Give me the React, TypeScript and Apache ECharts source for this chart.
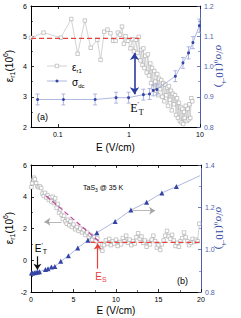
import React, { useEffect, useRef } from 'react';
import * as echarts from 'echarts';

// ---------- Panel (a) : log field axis ----------
const fieldA = [0.042, 0.063, 0.11, 0.155, 0.19, 0.24, 0.29, 0.36, 0.4, 0.45, 0.5, 0.55, 0.6, 0.65, 0.7, 0.75, 0.8, 0.85, 0.9, 0.97,
  1.05, 1.12, 1.18, 1.25, 1.32, 1.38, 1.45, 1.5, 1.55, 1.6, 1.65, 1.7, 1.78, 1.85, 1.92, 2.0, 2.05, 2.12, 2.2, 2.28,
  2.35, 2.42, 2.5, 2.58, 2.65, 2.75, 2.85, 2.95, 3.05, 3.15, 3.25, 3.35, 3.45, 3.55, 3.65, 3.78, 3.9, 4.0, 4.15, 4.3,
  4.45, 4.6, 4.75, 4.9, 5.05, 5.2, 5.35, 5.5, 5.65, 5.8, 5.95, 6.1, 6.3, 6.5, 6.7, 6.9, 7.1, 7.3, 7.55, 7.8];
const epsA = [4.95, 5.12, 4.95, 5.57, 4.42, 5.52, 4.62, 4.88, 4.22, 5.15, 5.22, 5.1, 4.85, 4.85, 5.12, 5.05, 5.32, 4.75, 5.0, 4.85,
  4.6, 4.9, 4.5, 4.88, 4.45, 4.98, 4.2, 4.55, 4.05, 4.6, 3.95, 4.35, 3.8, 4.4, 3.7, 4.1, 3.45, 3.95, 3.3, 3.85,
  3.5, 3.2, 3.75, 3.05, 3.6, 3.25, 3.55, 3.0, 3.45, 2.85, 3.4, 3.05, 3.3, 2.7, 3.35, 2.9, 3.2, 2.55, 3.1, 2.75,
  3.05, 2.4, 2.95, 2.3, 2.8, 2.2, 2.65, 2.15, 2.6, 2.1, 2.5, 2.3, 2.7, 2.2, 2.6, 2.25, 2.75, 2.3, 2.95, 2.85];
const sigFieldA = [0.052, 0.12, 0.335, 0.66, 0.99, 1.6, 1.95, 2.2, 2.47, 4.5, 5.76, 6.9, 7.95, 9.8];
const sigA = [0.891, 0.891, 0.891, 0.897, 0.897, 0.907, 0.909, 0.921, 0.924, 0.968, 1.012, 1.045, 1.079, 1.135];
const sigErrA = [0.018, 0.018, 0.018, 0.018, 0.018, 0.018, 0.018, 0.018, 0.018, 0.018, 0.018, 0.02, 0.02, 0.022];
const flatFieldA = [0.042, 1.4];
const flatEpsA = [4.93, 4.93];

// ---------- Panel (b) : linear field axis ----------
const fieldB = [0.05, 0.15, 0.25, 0.35, 0.45, 0.6, 0.75, 0.9, 1.05, 1.2, 1.35, 1.5, 1.65, 1.8, 1.95, 2.1, 2.25, 2.4, 2.55, 2.7,
  2.85, 3.0, 3.15, 3.3, 3.45, 3.6, 3.75, 3.9, 4.05, 4.2, 4.35, 4.5, 4.65, 4.8, 5.0, 5.2, 5.4, 5.6, 5.8, 6.0,
  6.2, 6.4, 6.6, 6.8, 7.0, 7.2, 7.4, 7.6, 7.8, 8.0, 8.2, 8.4, 8.6, 8.8, 9.0, 9.2, 9.4, 9.6, 9.8, 10.0,
  10.2, 10.4, 10.6, 10.8, 11.0, 11.2, 11.4, 11.6, 11.8, 12.0, 12.2, 12.4, 12.6, 12.8, 13.0, 13.2, 13.4, 13.6, 13.8, 14.0,
  14.2, 14.4, 14.6, 14.8, 15.0, 15.2, 15.4, 15.6, 15.8, 16.0, 16.2, 16.4, 16.6, 16.8, 17.0, 17.2, 17.4, 17.6, 17.8, 18.0,
  18.2, 18.4, 18.6, 18.8, 19.0, 19.2, 19.4, 19.6, 19.8];
const epsB = [4.6, 4.85, 5.05, 5.2, 5.1, 4.85, 4.65, 4.6, 4.65, 4.55, 4.2, 4.05, 4.25, 3.95, 4.1, 3.8, 3.95, 3.7, 4.0, 3.6,
  3.9, 3.3, 3.55, 3.0, 3.2, 2.85, 2.6, 2.8, 2.45, 2.3, 2.55, 2.2, 2.45, 2.1, 2.25, 1.95, 2.1, 1.85, 2.0, 1.75,
  1.9, 1.6, 1.75, 1.45, 1.6, 1.3, 1.5, 1.2, 1.4, 1.0, 0.75, 0.6, 0.95, 1.25, 1.05, 1.35, 0.95, 1.2, 1.05, 1.3,
  0.9, 1.15, 1.0, 1.4, 1.2, 1.55, 1.1, 1.3, 0.95, 1.2, 1.05, 1.45, 1.7, 1.35, 1.5, 1.1, 1.25, 0.85, 1.15, 1.0,
  1.3, 1.55, 1.2, 0.8, 0.95, 0.65, 1.0, 1.25, 1.55, 1.85, 1.5, 1.35, 1.6, 1.25, 0.9, 1.1, 0.85, 1.2, 1.4, 1.75,
  1.45, 1.2, 0.95, 1.1, 1.35, 1.15, 1.3, 1.2, 2.3];
const sigFieldB = [0.05, 0.2, 0.4, 0.6, 0.8, 1.0, 1.7, 2.0, 2.4, 2.8, 3.5, 4.4, 5.5, 6.7, 7.75, 9.9, 11.75, 13.6, 15.4, 17.1, 19.9];
const sigB = [0.89, 0.89, 0.891, 0.893, 0.895, 0.896, 0.906, 0.91, 0.918, 0.92, 0.945, 0.971, 1.008, 1.045, 1.08, 1.133, 1.187, 1.224, 1.268, 1.298, 1.35];
const slopeFieldB = [1.8, 8.2];
const slopeEpsB = [4.05, 1.1];
const flatFieldB = [7.0, 20];
const flatEpsB = [1.12, 1.12];

const BLUE = '#3344a4';
const AXBLUE = '#4f5fae';
const LBLUE = '#9aa4d8';
const GRAY = '#a6a6a6';
const LGRAY = '#c8c8c8';
const RED = '#e8403c';
const MAG = '#c2439a';
const SANS = 'Liberation Sans, Arial, sans-serif';
const SERIF = 'Liberation Serif, Times New Roman, serif';

const zip = (xs: number[], ys: number[]) => xs.map((x, i) => [x, ys[i]]);

const tickIn = { show: true, inside: true, length: 3, lineStyle: { width: 0.8 } };
const minorIn = { show: true, splitNumber: 2, length: 2, lineStyle: { width: 0.6 } };
const hollowSq = { color: '#ffffff', borderColor: GRAY, borderWidth: 0.6 };

export default function App() {
  const ref = useRef<HTMLDivElement>(null);
  useEffect(() => {
    document.body.style.margin = '0';
    const chart = echarts.init(ref.current!, null, { renderer: 'svg' });
    const blackLine = { show: true, onZero: false, lineStyle: { color: '#000', width: 1 } };
    const blueLine = { show: true, onZero: false, lineStyle: { color: AXBLUE, width: 1 } };
    const lbl = { fontSize: 7, color: '#000', fontFamily: SANS, margin: 4 };
    const titleL = (y: number) => ({
      type: 'text', x: 9, y, rotation: Math.PI / 2,
      style: {
        text: '{b|ε}{s|r1}{b|(10}{p|6}{b|)}', align: 'center', verticalAlign: 'middle',
        rich: {
          b: { fontSize: 10, fontFamily: SANS, fill: '#000', lineHeight: 14 },
          s: { fontSize: 7, fontFamily: SANS, fill: '#000', verticalAlign: 'bottom', lineHeight: 10 },
          p: { fontSize: 7, fontFamily: SANS, fill: '#000', verticalAlign: 'top', lineHeight: 10 },
        },
      },
    });
    const titleR = (y: number) => ({
      type: 'text', x: 220, y, rotation: -Math.PI / 2,
      style: {
        text: '{b|σ/σ}{s|0}{b|(10}{p|-4}{b|)}', align: 'center', verticalAlign: 'middle',
        rich: {
          b: { fontSize: 11, fontFamily: SERIF, fill: BLUE, lineHeight: 15 },
          s: { fontSize: 7, fontFamily: SERIF, fill: BLUE, verticalAlign: 'bottom', lineHeight: 10 },
          p: { fontSize: 7, fontFamily: SERIF, fill: BLUE, verticalAlign: 'top', lineHeight: 10 },
        },
      },
    });
    const errBars = sigFieldA.map((x, i) => [x, sigA[i], sigErrA[i]]);

    chart.setOption({
      animation: false,
      grid: [
        { left: 31, top: 6, width: 169, height: 121 },
        { left: 31, top: 165, width: 170, height: 127 },
      ],
      xAxis: [
        {
          gridIndex: 0, type: 'log', logBase: 10, min: 0.042, max: 10, axisLine: blackLine, axisTick: tickIn,
          axisLabel: { ...lbl, showMinLabel: false, formatter: (v: number) => String(+v.toPrecision(3)) },
          splitLine: { show: false },
          name: 'E (V/cm)', nameLocation: 'middle', nameGap: 15,
          nameTextStyle: { fontSize: 10, fontFamily: SANS, color: '#000' },
        },
        {
          gridIndex: 0, type: 'log', logBase: 10, min: 0.042, max: 10, position: 'top', axisLine: blackLine,
          axisTick: tickIn, axisLabel: { show: false }, splitLine: { show: false },
        },
        {
          gridIndex: 1, type: 'value', min: 0, max: 20, interval: 5, axisLine: blackLine, axisTick: tickIn,
          minorTick: minorIn, axisLabel: lbl, splitLine: { show: false },
          name: 'E (V/cm)', nameLocation: 'middle', nameGap: 13,
          nameTextStyle: { fontSize: 10, fontFamily: SANS, color: '#000' },
        },
        {
          gridIndex: 1, type: 'value', min: 0, max: 20, interval: 5, position: 'top', axisLine: blackLine,
          axisTick: tickIn, minorTick: minorIn, axisLabel: { show: false }, splitLine: { show: false },
        },
      ],
      yAxis: [
        {
          gridIndex: 0, type: 'value', min: 2, max: 6, interval: 1, axisLine: blackLine, axisTick: tickIn,
          minorTick: minorIn, axisLabel: lbl, splitLine: { show: false },
        },
        {
          gridIndex: 0, type: 'value', position: 'right', min: 0.8, max: 1.2, interval: 0.1, axisLine: blueLine,
          axisTick: { ...tickIn, lineStyle: { color: AXBLUE, width: 0.8 } },
          minorTick: { ...minorIn, lineStyle: { color: AXBLUE, width: 0.6 } },
          axisLabel: { ...lbl, color: AXBLUE, formatter: (v: number) => v.toFixed(1) }, splitLine: { show: false },
        },
        {
          gridIndex: 1, type: 'value', min: -2, max: 6, interval: 2, axisLine: blackLine, axisTick: tickIn,
          minorTick: minorIn, axisLabel: lbl, splitLine: { show: false },
        },
        {
          gridIndex: 1, type: 'value', position: 'right', min: 0.8, max: 1.4, interval: 0.2, axisLine: blueLine,
          axisTick: { ...tickIn, lineStyle: { color: AXBLUE, width: 0.8 } },
          minorTick: { ...minorIn, lineStyle: { color: AXBLUE, width: 0.6 } },
          axisLabel: { ...lbl, color: AXBLUE, formatter: (v: number) => v.toFixed(1) }, splitLine: { show: false },
        },
      ],
      series: [
        // ---- panel a ----
        {
          type: 'line', xAxisIndex: 0, yAxisIndex: 0, data: zip(fieldA, epsA),
          symbol: 'rect', symbolSize: 3.5, lineStyle: { color: LGRAY, width: 0.8 },
          itemStyle: hollowSq, z: 2,
          markLine: {
            silent: true, symbol: ['arrow', 'arrow'], symbolSize: 7, label: { show: false },
            lineStyle: { color: '#2a3c9c', width: 1.6, type: 'solid' },
            data: [[{ coord: [1.2, 4.45] }, { coord: [1.2, 3.08] }]],
          },
        },
        {
          type: 'line', xAxisIndex: 0, yAxisIndex: 0, data: zip(flatFieldA, flatEpsA), symbol: 'none',
          lineStyle: { color: RED, width: 1.2, type: [5, 3] }, z: 3,
        },
        {
          type: 'custom', xAxisIndex: 0, yAxisIndex: 1, data: errBars, z: 3,
          renderItem: (_p: any, api: any) => {
            const x = api.value(0), y = api.value(1), e = api.value(2);
            const top = api.coord([x, y + e]);
            const bot = api.coord([x, y - e]);
            const st = { stroke: LBLUE, lineWidth: 0.8 };
            return {
              type: 'group',
              children: [
                { type: 'line', shape: { x1: top[0], y1: top[1], x2: bot[0], y2: bot[1] }, style: st },
                { type: 'line', shape: { x1: top[0] - 2, y1: top[1], x2: top[0] + 2, y2: top[1] }, style: st },
                { type: 'line', shape: { x1: bot[0] - 2, y1: bot[1], x2: bot[0] + 2, y2: bot[1] }, style: st },
              ],
            };
          },
        },
        {
          type: 'line', xAxisIndex: 0, yAxisIndex: 1, data: zip(sigFieldA, sigA), symbol: 'circle', symbolSize: 3,
          lineStyle: { color: LBLUE, width: 0.8 }, itemStyle: { color: BLUE }, z: 4,
        },
        // ---- panel b ----
        {
          type: 'line', xAxisIndex: 2, yAxisIndex: 2, data: zip(fieldB, epsB),
          symbol: 'rect', symbolSize: 3.5, lineStyle: { color: LGRAY, width: 0.8 },
          itemStyle: hollowSq, z: 2,
          markLine: {
            silent: true, symbolSize: 6, label: { show: false },
            data: [
              [{ coord: [3.6, 2.42], symbol: 'none', lineStyle: { color: GRAY, width: 0.8, type: 'solid' } },
               { coord: [1.57, 2.42], symbol: 'arrow' }],
              [{ coord: [0.75, 0.25], symbol: 'none', lineStyle: { color: '#111', width: 1.2, type: 'solid' } },
               { coord: [0.75, -0.6], symbol: 'arrow' }],
              [{ coord: [7.85, -0.53], symbol: 'none', lineStyle: { color: RED, width: 1.2, type: 'solid' } },
               { coord: [7.85, 1.05], symbol: 'arrow' }],
            ],
          },
        },
        {
          type: 'line', xAxisIndex: 2, yAxisIndex: 2, data: zip(slopeFieldB, slopeEpsB), symbol: 'none',
          lineStyle: { color: MAG, width: 1.2, type: [5, 3] }, z: 3,
        },
        {
          type: 'line', xAxisIndex: 2, yAxisIndex: 2, data: zip(flatFieldB, flatEpsB), symbol: 'none',
          lineStyle: { color: RED, width: 1.2, type: [5, 3] }, z: 3,
        },
        {
          type: 'line', xAxisIndex: 2, yAxisIndex: 3,
          data: zip(sigFieldB, sigB).map((d, i) => (i === sigFieldB.length - 1 ? { value: d, symbol: 'none' } : d)),
          symbol: 'triangle', symbolSize: 5, lineStyle: { color: LBLUE, width: 0.8 }, itemStyle: { color: BLUE }, z: 4,
          markLine: {
            silent: true, symbolSize: 6, label: { show: false },
            lineStyle: { color: GRAY, width: 0.8, type: 'solid' },
            data: [[{ coord: [11.9, 1.184], symbol: 'none' }, { coord: [14.6, 1.184], symbol: 'arrow' }]],
          },
        },
      ],
      graphic: [
        titleL(66), titleR(66), titleL(228), titleR(228),
        // legend (a)
        { type: 'line', shape: { x1: 47, y1: 66, x2: 67, y2: 66 }, style: { stroke: LGRAY, lineWidth: 0.8 } },
        { type: 'rect', shape: { x: 55.2, y: 64.2, width: 3.5, height: 3.5 }, style: { fill: '#fff', stroke: GRAY, lineWidth: 0.6 } },
        {
          type: 'text', x: 72, y: 67,
          style: {
            text: '{b|ε}{s|r1}', verticalAlign: 'middle',
            rich: { b: { fontSize: 10, fontFamily: SANS, fill: '#000', lineHeight: 13 }, s: { fontSize: 6, fontFamily: SANS, fill: '#000', verticalAlign: 'bottom', lineHeight: 9 } },
          },
        },
        { type: 'line', shape: { x1: 47, y1: 81, x2: 67, y2: 81 }, style: { stroke: LBLUE, lineWidth: 0.8 } },
        { type: 'circle', shape: { cx: 57, cy: 81, r: 1.5 }, style: { fill: BLUE } },
        {
          type: 'text', x: 72, y: 82,
          style: {
            text: '{b|σ}{s|dc}', verticalAlign: 'middle',
            rich: { b: { fontSize: 10, fontFamily: SANS, fill: '#000', lineHeight: 13 }, s: { fontSize: 6, fontFamily: SANS, fill: '#000', verticalAlign: 'bottom', lineHeight: 9 } },
          },
        },
        { type: 'text', x: 37, y: 117, style: { text: '(a)', fontSize: 9, fontFamily: SANS, fill: '#000', verticalAlign: 'middle' } },
        {
          type: 'text', x: 137, y: 108,
          style: {
            text: '{b|E}{p|\'}{s|T}', align: 'center', verticalAlign: 'middle',
            rich: {
              b: { fontSize: 12, fontFamily: SERIF, fill: '#000', lineHeight: 16 },
              p: { fontSize: 7, fontFamily: SERIF, fill: '#000', verticalAlign: 'top', lineHeight: 9 },
              s: { fontSize: 8, fontFamily: SERIF, fill: '#000', verticalAlign: 'bottom', lineHeight: 10 },
            },
          },
        },
        // panel b annotations
        {
          type: 'text', x: 83, y: 187,
          style: {
            text: '{b|TaS}{s|3}{b| @ 35 K}', verticalAlign: 'middle',
            rich: { b: { fontSize: 7, fontFamily: SANS, fill: '#000', lineHeight: 10 }, s: { fontSize: 5, fontFamily: SANS, fill: '#000', verticalAlign: 'bottom', lineHeight: 7 } },
          },
        },
        {
          type: 'text', x: 41, y: 248,
          style: {
            text: '{b|E}{p|\'}{s|T}', align: 'center', verticalAlign: 'middle',
            rich: {
              b: { fontSize: 10, fontFamily: SANS, fill: '#000', lineHeight: 13 },
              p: { fontSize: 7, fontFamily: SANS, fill: '#000', verticalAlign: 'top', lineHeight: 8 },
              s: { fontSize: 7, fontFamily: SANS, fill: '#000', verticalAlign: 'bottom', lineHeight: 9 },
            },
          },
        },
        {
          type: 'text', x: 101, y: 276,
          style: {
            text: '{b|E}{s|S}', align: 'center', verticalAlign: 'middle',
            rich: {
              b: { fontSize: 10, fontFamily: SANS, fill: RED, lineHeight: 13 },
              s: { fontSize: 7, fontFamily: SANS, fill: RED, verticalAlign: 'bottom', lineHeight: 9 },
            },
          },
        },
        { type: 'text', x: 177, y: 281, style: { text: '(b)', fontSize: 9, fontFamily: SANS, fill: '#000', verticalAlign: 'middle' } },
      ],
    });
    return () => chart.dispose();
  }, []);
  return <div ref={ref} style={{ width: 241, height: 318 }} />;
}
